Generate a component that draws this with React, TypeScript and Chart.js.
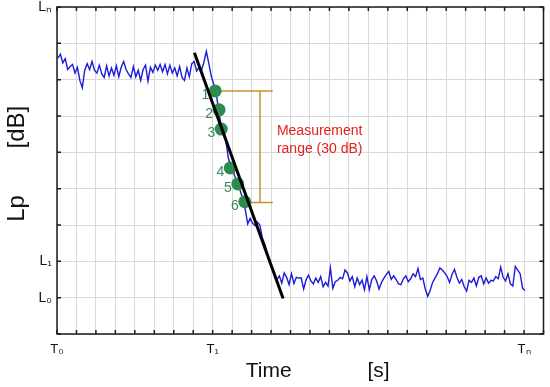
import React, { useEffect, useRef } from 'react';
import { Chart, registerables } from 'chart.js';

Chart.register(...registerables);

// Sampled decay curve (time in grid units, level in dB)
const SAMPLE_START = 0.05;
const SAMPLE_STEP = 0.125;
const LEVELS = [
  75.9, 77.0, 74.6, 75.8, 72.8, 73.6, 74.2, 71.8, 73.4, 69.8,
  67.8, 72.6, 74.4, 72.8, 75.0, 72.6, 71.8, 74.0, 71.6, 70.6,
  73.8, 71.0, 73.2, 71.2, 73.8, 70.8, 73.4, 75.0, 72.8, 71.6,
  70.6, 73.6, 70.8, 72.6, 69.8, 72.8, 74.0, 69.6, 73.4, 72.0,
  74.0, 72.6, 74.2, 72.2, 74.2, 71.6, 74.0, 71.8, 73.2, 71.0,
  73.6, 70.6, 69.8, 73.2, 70.8, 74.4, 75.0, 72.4, 73.4, 72.6,
  74.8, 77.8, 74.5, 71.0, 68.8, 66.8, 61.5, 57.8, 55.8, 53.4,
  48.5, 46.2, 44.8, 42.8, 41.1, 39.3, 37.0, 34.2, 30.3, 31.8,
  30.5, 29.8, 30.8, 30.0, 26.5, 24.8, 22.3, 20.2, 18.2, 16.8,
  14.9, 16.0, 14.0, 16.8, 15.6, 13.6, 16.6, 13.9, 15.6, 15.4,
  15.4, 12.4, 14.9, 16.2, 14.6, 13.8, 15.4, 14.2, 15.8, 13.0,
  14.2, 13.2, 18.2, 12.6, 14.4, 14.8, 15.6, 15.2, 17.6, 16.8,
  14.6, 15.8, 13.0, 15.4, 13.6, 14.8, 12.2, 15.8, 12.2, 15.0,
  16.0, 14.6, 12.4, 14.2, 15.4, 16.4, 17.2, 15.0, 16.0, 15.0,
  13.8, 13.6, 15.2, 16.0, 14.4, 15.2, 16.6, 15.8, 18.0, 15.0,
  15.4, 12.4, 10.4, 12.0, 14.2, 15.4, 16.6, 18.2, 17.6, 16.8,
  15.8, 14.2, 16.4, 17.8, 15.6, 14.0, 15.0, 13.0, 11.8, 14.8,
  14.2, 15.4, 13.2, 15.6, 16.0, 13.8, 15.4, 14.0, 14.8, 14.6,
  15.8, 15.2, 18.4, 15.6, 14.6, 16.6, 13.8, 13.2, 18.6, 17.6,
  16.6, 12.6, 12.0,
];

const X_TICK_LABELS: Record<number, string> = { 0: 'T\u2080', 8: 'T\u2081', 24: 'T\u2099' };
const Y_TICK_LABELS: Record<number, string> = { 10: 'L\u2080', 20: 'L\u2081', 90: 'L\u2099' };

// Regression line
const FIT_TIMES = [7.06, 11.62];
const FIT_LEVELS = [77.4, 9.8];

// Measurement points
const POINT_TIMES = [8.13, 8.33, 8.44, 8.9, 9.29, 9.65];
const POINT_LEVELS = [66.9, 61.7, 56.4, 45.7, 41.3, 36.4];
const POINT_LABELS = ['1', '2', '3', '4', '5', '6'];

// Measurement range bracket
const RANGE_TOP = 66.9;
const RANGE_BOTTOM = 36.2;
const RANGE_X = 10.43;
const RANGE_END = 11.09;
const RANGE_TEXT = ['Measurement', 'range (30 dB)'];
const RANGE_TEXT_X = 11.3;
const RANGE_TEXT_Y = [55.9, 50.9];

const FONT = "'Liberation Sans', Arial, Helvetica, sans-serif";

export default function App() {
  const ref = useRef<HTMLCanvasElement | null>(null);

  useEffect(() => {
    if (!ref.current) return;
    const curve = LEVELS.map((v, i) => ({ x: SAMPLE_START + i * SAMPLE_STEP, y: v }));
    const fit = FIT_TIMES.map((t, i) => ({ x: t, y: FIT_LEVELS[i] }));
    const pts = POINT_TIMES.map((t, i) => ({ x: t, y: POINT_LEVELS[i] }));
    const bracketColor = '#c8922a';

    const overlay = {
      id: 'overlay',
      afterDatasetsDraw(chart: any) {
        const { ctx, chartArea: a, scales } = chart;
        const xs = scales.x;
        const ys = scales.y;
        ctx.save();
        // point labels
        const meta = chart.getDatasetMeta(1);
        ctx.font = `14px ${FONT}`;
        ctx.fillStyle = '#3a8a5a';
        ctx.textAlign = 'right';
        ctx.textBaseline = 'middle';
        meta.data.forEach((el: any, i: number) => {
          ctx.fillText(POINT_LABELS[i], el.x - 6, el.y + 4);
        });
        // range text
        ctx.font = `14px ${FONT}`;
        ctx.fillStyle = '#e3201b';
        ctx.textAlign = 'left';
        RANGE_TEXT.forEach((s, i) => {
          ctx.fillText(s, xs.getPixelForValue(RANGE_TEXT_X), ys.getPixelForValue(RANGE_TEXT_Y[i]));
        });
        // frame with inward ticks
        ctx.strokeStyle = '#1c1c1c';
        ctx.lineWidth = 1.5;
        ctx.beginPath();
        xs.ticks.forEach((t: any) => {
          const p = xs.getPixelForValue(t.value);
          ctx.moveTo(p, a.bottom);
          ctx.lineTo(p, a.bottom - 4);
          ctx.moveTo(p, a.top);
          ctx.lineTo(p, a.top + 4);
        });
        ys.ticks.forEach((t: any) => {
          const p = ys.getPixelForValue(t.value);
          ctx.moveTo(a.left, p);
          ctx.lineTo(a.left + 4, p);
          ctx.moveTo(a.right, p);
          ctx.lineTo(a.right - 4, p);
        });
        ctx.stroke();
        ctx.strokeRect(a.left, a.top, a.right - a.left, a.bottom - a.top);
        ctx.restore();
      },
    };

    const chart = new Chart(ref.current, {
      type: 'line',
      data: {
        datasets: [
          {
            data: fit,
            borderColor: '#000000',
            borderWidth: 3,
            pointRadius: 0,
            fill: false,
          },
          {
            data: pts,
            showLine: false,
            pointRadius: 6.5,
            pointBackgroundColor: '#2e8b50',
            pointBorderColor: '#2e8b50',
            pointBorderWidth: 0,
          },
          {
            data: curve,
            borderColor: '#1c1cd8',
            borderWidth: 1.4,
            pointRadius: 0,
            tension: 0,
            fill: false,
          },
          {
            data: [{ x: POINT_TIMES[0], y: RANGE_TOP }, { x: RANGE_END, y: RANGE_TOP }],
            borderColor: bracketColor,
            borderWidth: 1.5,
            pointRadius: 0,
          },
          {
            data: [{ x: RANGE_X, y: RANGE_TOP }, { x: RANGE_X, y: RANGE_BOTTOM }],
            borderColor: bracketColor,
            borderWidth: 1.5,
            pointRadius: 0,
          },
          {
            data: [{ x: POINT_TIMES[5], y: RANGE_BOTTOM }, { x: RANGE_END, y: RANGE_BOTTOM }],
            borderColor: bracketColor,
            borderWidth: 1.5,
            pointRadius: 0,
          },
        ],
      },
      options: {
        responsive: false,
        animation: false,
        layout: { padding: { top: 7, right: 4, left: 0, bottom: 0 } },
        plugins: { legend: { display: false }, tooltip: { enabled: false } },
        scales: {
          x: {
            type: 'linear',
            min: 0,
            max: 25,
            afterFit: (s: any) => {
              s.height = 53;
              s.paddingLeft = 0;
              s.paddingRight = 0;
            },
            grid: { color: '#d9d9d9', lineWidth: 1, drawTicks: false },
            border: { display: false },
            ticks: {
              stepSize: 1,
              autoSkip: false,
              maxRotation: 0,
              padding: 8,
              color: '#111',
              font: { family: FONT, size: 13 },
              callback: (v: any) => X_TICK_LABELS[Math.round(Number(v))] ?? '',
            },
            title: {
              display: true,
              text: '      Time             [s]',
              color: '#111',
              font: { family: FONT, size: 21 },
              padding: { top: 0, bottom: 3 },
            },
          },
          y: {
            type: 'linear',
            min: 0,
            max: 90,
            afterFit: (s: any) => {
              s.width = 57;
              s.paddingTop = 0;
              s.paddingBottom = 0;
            },
            grid: { color: '#d9d9d9', lineWidth: 1, drawTicks: false },
            border: { display: false },
            ticks: {
              stepSize: 10,
              autoSkip: false,
              padding: 5,
              color: '#111',
              font: { family: FONT, size: 14 },
              callback: (v: any) => Y_TICK_LABELS[Math.round(Number(v))] ?? '',
            },
            title: {
              display: true,
              text: '  Lp       [dB]',
              color: '#111',
              font: { family: FONT, size: 24 },
              padding: { top: 3, bottom: 3 },
            },
          },
        },
      },
      plugins: [overlay],
    });
    return () => chart.destroy();
  }, []);

  return (
    <div style={{ position: 'absolute', left: 0, top: 0, width: 550, height: 387, background: '#fff' }}>
      <canvas ref={ref} width={550} height={387} style={{ display: 'block' }} />
    </div>
  );
}
